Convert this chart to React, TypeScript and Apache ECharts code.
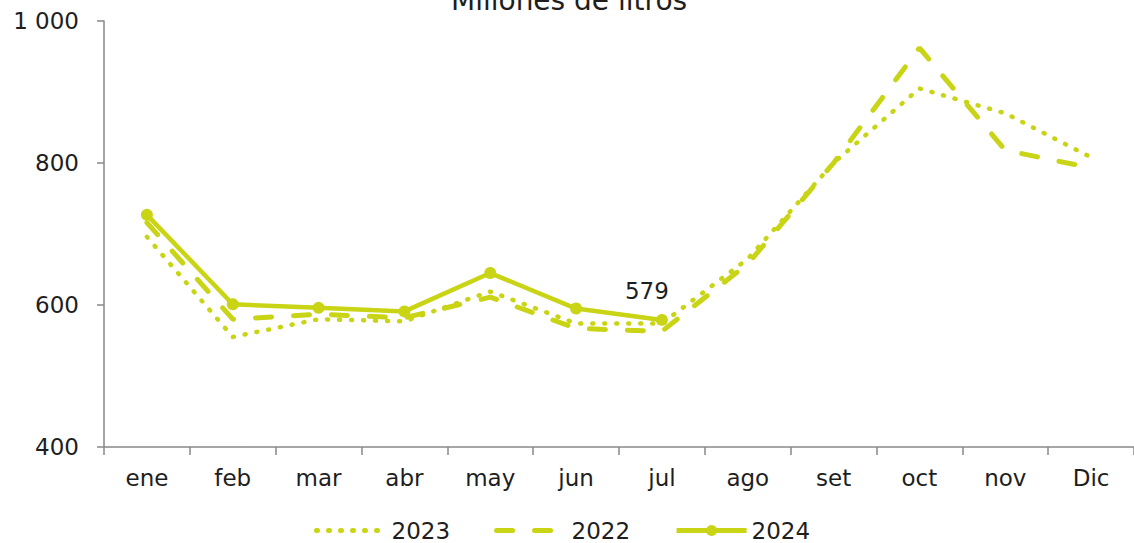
import React, { useEffect, useRef } from "react";
import * as echarts from "echarts";

const months = ["ene", "feb", "mar", "abr", "may", "jun", "jul", "ago", "set", "oct", "nov", "Dic"];
const s2023 = [696, 555, 580, 577, 619, 574, 574, 665, 800, 905, 870, 808];
const s2022 = [716, 580, 587, 582, 611, 567, 563, 658, 800, 962, 818, 793];
const s2024 = [727, 601, 596, 591, 645, 595, 579];
const yTicks = [400, 600, 800, 1000];

const GREEN = "#c8d414";
const FONT = "DejaVu Sans";
const FS = 23;
const TXT = "#1e1e1e";

export default function App() {
  const ref = useRef<HTMLDivElement>(null);
  useEffect(() => {
    const chart = echarts.init(ref.current!, null, { renderer: "svg" });
    chart.setOption({
      animation: false,
      textStyle: { fontFamily: FONT },
      title: {
        text: "Millones de litros",
        left: 446,
        top: -19,
        textStyle: { fontFamily: FONT, fontSize: 28, fontWeight: "normal", color: TXT },
      },
      grid: { left: 104, right: -6, top: 21, bottom: 96, containLabel: false },
      legend: {
        bottom: -4,
        left: 309,
        itemWidth: 70,
        itemHeight: 14,
        itemGap: 44,
        data: [
          { name: "2023", itemStyle: { opacity: 0 }, lineStyle: { width: 5 } },
          { name: "2022", itemStyle: { opacity: 0 }, lineStyle: { width: 5 } },
          { name: "2024", lineStyle: { width: 5 } },
        ],
        textStyle: { fontFamily: FONT, fontSize: FS, color: TXT },
      },
      xAxis: {
        type: "category",
        data: months,
        boundaryGap: true,
        axisLine: { lineStyle: { color: "#888", width: 1.5 } },
        axisTick: { show: true, length: 8, lineStyle: { color: "#888", width: 1.5 } },
        axisLabel: { fontFamily: FONT, fontSize: FS, color: TXT, margin: 19 },
      },
      yAxis: {
        type: "value",
        min: yTicks[0],
        max: yTicks[yTicks.length - 1],
        interval: 200,
        splitLine: { show: false },
        axisLine: { show: true, lineStyle: { color: "#888", width: 1.5 } },
        axisTick: { show: true, length: 7, lineStyle: { color: "#888", width: 1.5 } },
        axisLabel: {
          fontFamily: FONT,
          fontSize: FS,
          color: TXT,
          margin: 25,
          formatter: (v: number) => (v >= 1000 ? "1 000" : String(v)),
        },
      },
      series: [
        {
          name: "2023",
          type: "line",
          data: s2023,
          symbol: "none",
          lineStyle: { color: GREEN, width: 4.5, type: [1, 11], cap: "round" },
          itemStyle: { color: GREEN },
          z: 2,
        },
        {
          name: "2022",
          type: "line",
          data: s2022,
          symbol: "none",
          lineStyle: { color: GREEN, width: 5, type: [16, 22], cap: "round" },
          itemStyle: { color: GREEN },
          z: 3,
        },
        {
          name: "2024",
          type: "line",
          data: s2024.map((v, i) =>
            i === 6
              ? {
                  value: v,
                  label: {
                    show: true,
                    position: "top",
                    distance: 9,
                    offset: [-15, -2],
                    fontFamily: FONT,
                    fontSize: FS,
                    color: TXT,
                  },
                }
              : v
          ),
          symbol: "circle",
          symbolSize: 12,
          lineStyle: { color: GREEN, width: 4.5 },
          itemStyle: { color: GREEN },
          z: 4,
        },
      ],
    });
    return () => chart.dispose();
  }, []);
  return (
    <div
      ref={ref}
      style={{ position: "fixed", left: 0, top: 0, width: 1134, height: 543, background: "#fff" }}
    />
  );
}
